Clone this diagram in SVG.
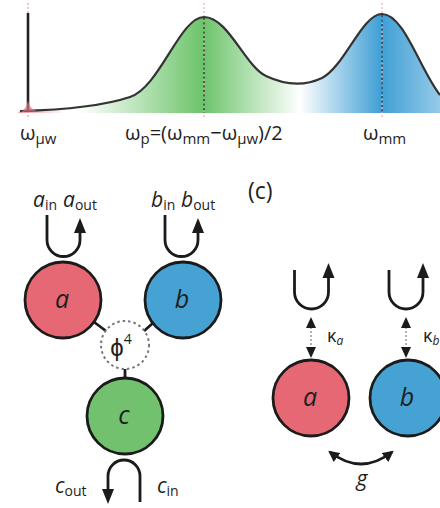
<svg xmlns="http://www.w3.org/2000/svg" width="440" height="508" viewBox="0 0 440 508">
<style>
.t{font-family:"Open Sans","Liberation Sans",sans-serif;fill:#1e1e1e}
.it{font-style:italic}
.ln{fill:none;stroke:#1b1b1b;stroke-width:2.8}
.nd{stroke:#1b1b1b;stroke-width:2.8}
.ah{fill:#1b1b1b}
</style>
<defs>
<linearGradient id="gG" x1="80" y1="0" x2="300" y2="0" gradientUnits="userSpaceOnUse">
<stop offset="0" stop-color="#6cc46a" stop-opacity="0"/>
<stop offset="0.56" stop-color="#6cc46a" stop-opacity="1"/>
<stop offset="1" stop-color="#6cc46a" stop-opacity="0"/>
</linearGradient>
<linearGradient id="gB" x1="300" y1="0" x2="440" y2="0" gradientUnits="userSpaceOnUse">
<stop offset="0" stop-color="#3f9fd5" stop-opacity="0"/>
<stop offset="0.58" stop-color="#3f9fd5" stop-opacity="1"/>
<stop offset="1" stop-color="#3f9fd5" stop-opacity="0.55"/>
</linearGradient>
<linearGradient id="gR" x1="18" y1="0" x2="65" y2="0" gradientUnits="userSpaceOnUse">
<stop offset="0" stop-color="#e66874" stop-opacity="0.7"/>
<stop offset="1" stop-color="#e66874" stop-opacity="0"/>
</linearGradient>
<clipPath id="under">
<path d="M18,113 L20,111 C60,110 100,107 130,97 C160,87 180,17 204,17 C228,17 245,66 266,76 C285,85 305,86 322,78 C345,66 362,14 382,14 C404,14 420,70 440,95 L440,113 Z"/>
</clipPath>
<marker id="mh" viewBox="0 0 10 10" refX="8" refY="5" markerWidth="4" markerHeight="4" orient="auto-start-reverse" markerUnits="strokeWidth">
<path d="M0,0 L10,5 L0,10 Z" fill="#1b1b1b"/>
</marker>
</defs>

<g id="spectrum">
<g clip-path="url(#under)">
<rect x="80" y="0" width="220" height="113" fill="url(#gG)"/>
<rect x="300" y="0" width="140" height="113" fill="url(#gB)"/>
<rect x="18" y="95" width="50" height="18" fill="url(#gR)"/>
</g>
<line x1="28" y1="3" x2="28" y2="119" stroke="#e8a0a8" stroke-width="1.2" stroke-dasharray="2,2"/>
<line x1="204" y1="3" x2="204" y2="119" stroke="#e8b0b8" stroke-width="1.2" stroke-dasharray="2,2"/>
<line x1="382" y1="3" x2="382" y2="119" stroke="#e8b0b8" stroke-width="1.2" stroke-dasharray="2,2"/>
<line x1="204" y1="18" x2="204" y2="113" stroke="#2f4a2f" stroke-width="1.6" stroke-dasharray="2,2.5"/>
<line x1="382" y1="15" x2="382" y2="113" stroke="#254a60" stroke-width="1.6" stroke-dasharray="2,2.5"/>
<path d="M20,111 C60,110 100,107 130,97 C160,87 180,17 204,17 C228,17 245,66 266,76 C285,85 305,86 322,78 C345,66 362,14 382,14 C404,14 420,70 440,95" fill="none" stroke="#333" stroke-width="2.2"/>
<line x1="28" y1="13" x2="28" y2="110" stroke="#222" stroke-width="2.6"/>
<path d="M21,112 Q27,108 28,100 Q29,108 36,111" fill="#d9727f" opacity="0.7"/>
<text class="t" x="20" y="140" font-size="20">ω<tspan font-size="15" dy="4">μw</tspan></text>
<text class="t" x="125" y="140" font-size="20">ω<tspan font-size="15" dy="4">p</tspan><tspan dy="-4">=(ω</tspan><tspan font-size="15" dy="4">mm</tspan><tspan dy="-4">−ω</tspan><tspan font-size="15" dy="4">μw</tspan><tspan dy="-4">)/2</tspan></text>
<text class="t" x="363" y="140" font-size="20">ω<tspan font-size="15" dy="4">mm</tspan></text>
</g>

<text class="t" x="248" y="199" font-size="23">(c)</text>

<g id="connectors">
<path class="ln" d="M47,215 L47,240 A16.5,16.5 0 0 0 80,240 L80,231"/>
<path class="ah" d="M80,218 L74,233 L86,233 Z"/>
<path class="ln" d="M165,215 L165,240 A16.5,16.5 0 0 0 198,240 L198,231"/>
<path class="ah" d="M198,218 L192,233 L204,233 Z"/>
<line class="ln" x1="94" y1="322" x2="106" y2="331"/>
<line class="ln" x1="153" y1="323" x2="144" y2="331"/>
<line class="ln" x1="125" y1="369" x2="125" y2="378"/>
<path class="ln" d="M140,502 L140,476 A16,16 0 0 0 108,476 L108,490"/>
<path class="ah" d="M108,504 L102,489 L114,489 Z"/>
<path class="ln" d="M294.5,270 L294.5,292 A17,17 0 0 0 328.5,292 L328.5,276"/>
<path class="ah" d="M328.5,263 L322.5,278 L334.5,278 Z"/>
<path class="ln" d="M389,270 L389,292 A17,17 0 0 0 423,292 L423,276"/>
<path class="ah" d="M423,263 L417,278 L429,278 Z"/>
<line x1="311" y1="327" x2="311" y2="349" stroke="#999" stroke-width="1.5" stroke-dasharray="2,2"/>
<path class="ah" d="M311,317 L306,328 L316,328 Z"/>
<path class="ah" d="M311,358 L306,347 L316,347 Z"/>
<line x1="406" y1="327" x2="406" y2="349" stroke="#999" stroke-width="1.5" stroke-dasharray="2,2"/>
<path class="ah" d="M406,317 L401,328 L411,328 Z"/>
<path class="ah" d="M406,358 L401,347 L411,347 Z"/>
<path class="ln" d="M330,452 Q361,476 392,452" marker-start="url(#mh)" marker-end="url(#mh)"/>
</g>

<g id="label-a-in"><text class="t" x="33" y="207" font-size="21"><tspan class="it">a</tspan><tspan font-size="14" dy="3">in</tspan></text></g>
<g id="label-a-out"><text class="t" x="63" y="207" font-size="21"><tspan class="it">a</tspan><tspan font-size="14" dy="3">out</tspan></text></g>
<g id="label-b-in"><text class="t" x="151" y="207" font-size="21"><tspan class="it">b</tspan><tspan font-size="14" dy="3">in</tspan></text></g>
<g id="label-b-out"><text class="t" x="181" y="207" font-size="21"><tspan class="it">b</tspan><tspan font-size="14" dy="3">out</tspan></text></g>

<g id="node-a"><circle class="nd" cx="63" cy="300" r="38" fill="#e66874"/><text class="t it" x="62" y="308" font-size="25" text-anchor="middle">a</text></g>
<g id="node-b"><circle class="nd" cx="183" cy="300" r="38" fill="#47a2d4"/><text class="t it" x="182" y="308" font-size="25" text-anchor="middle">b</text></g>
<g id="node-phi"><circle cx="125" cy="345" r="24" fill="none" stroke="#777" stroke-width="2" stroke-dasharray="2.5,3"/><text class="t" x="121" y="356" font-size="24" text-anchor="middle">ϕ<tspan font-size="14" dy="-12">4</tspan></text></g>
<g id="node-c"><circle class="nd" cx="125" cy="416" r="38" fill="#71c16f"/><text class="t it" x="124" y="424" font-size="25" text-anchor="middle">c</text></g>
<g id="label-c-out"><text class="t" x="55" y="493" font-size="21"><tspan class="it">c</tspan><tspan font-size="14" dy="3">out</tspan></text></g>
<g id="label-c-in"><text class="t" x="157" y="493" font-size="21"><tspan class="it">c</tspan><tspan font-size="14" dy="3">in</tspan></text></g>

<g id="node-a2"><circle class="nd" cx="311" cy="398" r="38" fill="#e66874"/><text class="t it" x="310" y="406" font-size="25" text-anchor="middle">a</text></g>
<g id="node-b2"><circle class="nd" cx="408" cy="398" r="38" fill="#47a2d4"/><text class="t it" x="407" y="406" font-size="25" text-anchor="middle">b</text></g>
<g id="label-kappa-a"><text class="t" x="327" y="342" font-size="18">κ<tspan class="it" font-size="12" dy="3">a</tspan></text></g>
<g id="label-kappa-b"><text class="t" x="423" y="342" font-size="18">κ<tspan class="it" font-size="12" dy="3">b</tspan></text></g>
<g id="label-g"><text class="t it" x="362" y="486" font-size="21" text-anchor="middle">g</text></g>
</svg>
